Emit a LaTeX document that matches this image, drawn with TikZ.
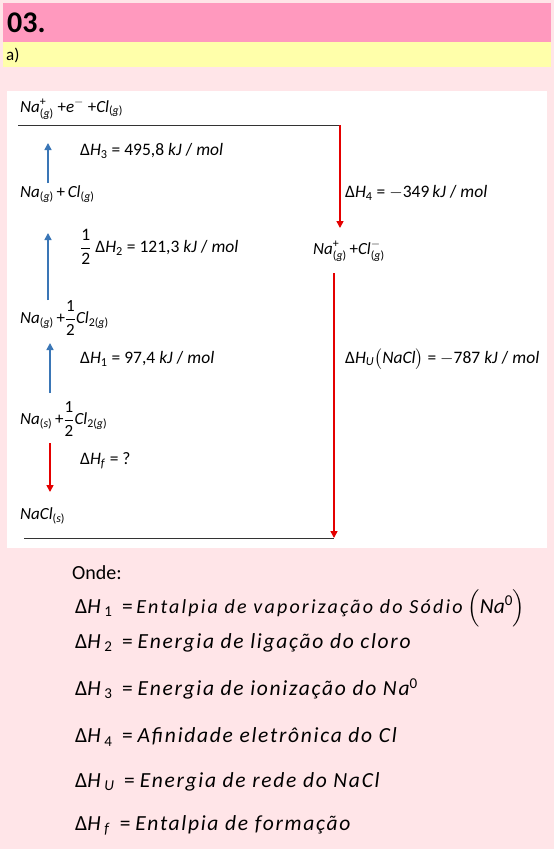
\documentclass[tikz,border=0pt]{standalone}
\usepackage{amsmath}
\usepackage{fontspec}
\setmainfont{Carlito}
\newfontfamily\spacedA[LetterSpace=11]{Carlito}
\newfontfamily\spacedB[LetterSpace=8]{Carlito}
\usetikzlibrary{arrows.meta}
\definecolor{bgpink}{RGB}{255,229,232}
\definecolor{hdrpink}{RGB}{255,153,190}
\definecolor{hdryellow}{RGB}{255,255,170}
\definecolor{arrblue}{RGB}{58,118,182}
\definecolor{arrred}{RGB}{228,0,0}
\newcommand{\sps}[2]{$^{\text{#1}}_{\text{#2}}$}
\newcommand{\sbs}[1]{$_{\text{#1}}$}
\newcommand{\phg}{(\textit{g})}
\newcommand{\phs}{(\textit{s})}
\newcommand{\half}{$\dfrac{\text{1}}{\text{2}}$}
\newcommand{\legtxt}[1]{{\spacedB\itshape #1}}
\tikzset{
  lbl/.style={anchor=west,inner sep=0pt,font=\fontsize{17}{20}\selectfont},
  elbl/.style={anchor=west,inner sep=0pt,font=\fontsize{17.5}{20}\selectfont},
  leg/.style={anchor=west,inner sep=0pt,font=\fontsize{21.5}{24}\selectfont},
  level/.style={draw=black!80,line width=1pt},
  upar/.style={draw=arrblue,line width=1.6pt,-{Triangle[width=7pt,length=7pt]}},
  dnar/.style={draw=arrred,line width=1.6pt,-{Triangle[width=7pt,length=7pt]}}
}
\begin{document}
\begin{tikzpicture}[x=1pt,y=-1pt]
\useasboundingbox (0,0) rectangle (554,849);
\fill[bgpink] (0,0) rectangle (554,849);
\fill[hdrpink] (3,3) rectangle (551,42);
\fill[hdryellow] (3,42) rectangle (551,67);
\node[anchor=west,inner sep=0pt,font=\fontsize{30}{32}\selectfont\bfseries] (title) at (7,23) {03.};
\node[anchor=west,inner sep=0pt,font=\fontsize{17}{19}\selectfont] (part) at (6,55) {a)};
\fill[white] (7,91) rectangle (547,548);

% levels
\coordinate (tl) at (18,125);
\coordinate (tr) at (340,125);
\coordinate (bl) at (24,538);
\coordinate (br) at (334,538);
\draw[level] (tl) -- (tr);
\draw[level] (bl) -- (br);

% species
\node[lbl] (ion3) at (20,109) {\textit{Na}\sps{+}{\phg}\ +\textit{e}$^{-}$\ +\textit{Cl}\sbs{\phg}};
\node[lbl] (atoms) at (20,194) {\textit{Na}\sbs{\phg}\,+\,\textit{Cl}\sbs{\phg}};
\node[lbl] (nag) at (20,318) {\textit{Na}\sbs{\phg}\,+\half\textit{Cl}\sbs{2\phg}};
\node[lbl] (nas) at (20,419) {\textit{Na}\sbs{\phs}\,+\half\textit{Cl}\sbs{2\phg}};
\node[lbl] (nacl) at (20,516) {\textit{NaCl}\sbs{\phs}};
\node[lbl] (ions) at (313,251) {\textit{Na}\sps{+}{\phg}\,+\textit{Cl}\sps{$-$}{\phg}};

% enthalpy labels
\node[elbl] (h3) at (80,151) {Δ\textit{H}\sbs{3} = 495,8 \textit{kJ} / \textit{mol}};
\node[elbl] (h2) at (80,247) {\half\ Δ\textit{H}\sbs{2} = 121,3 \textit{kJ} / \textit{mol}};
\node[elbl] (h1) at (80,359) {Δ\textit{H}\sbs{1} = 97,4 \textit{kJ} / \textit{mol}};
\node[elbl] (hf) at (80,461) {Δ\textit{H}\sbs{\textit{f}} = ?};
\node[elbl] (h4) at (345,193) {Δ\textit{H}\sbs{4} = $-$349\,\textit{kJ} / \textit{mol}};
\node[elbl] (hu) at (345,359) {Δ\textit{H}\sbs{\textit{U}}$\bigl($\textit{NaCl}$\bigr)$ = $-$787 \textit{kJ} / \textit{mol}};

% arrows
\coordinate (a3s) at (48,183); \coordinate (a3e) at (48,143);
\coordinate (a2s) at (48,300); \coordinate (a2e) at (48,233);
\coordinate (a1s) at (50,393); \coordinate (a1e) at (50,343);
\coordinate (afs) at (50,443); \coordinate (afe) at (50,492);
\coordinate (a4e) at (340,228);
\coordinate (aus) at (334,273);
\draw[upar] (a3s) -- (a3e);
\draw[upar] (a2s) -- (a2e);
\draw[upar] (a1s) -- (a1e);
\draw[dnar] (afs) -- (afe);
\draw[dnar] (tr) -- (a4e);
\draw[dnar] (aus) -- (br);

% legend
\node[anchor=west,inner sep=0pt,font=\fontsize{20}{22}\selectfont] (onde) at (72,573) {Onde:};
\node[leg] (l1) at (75,608) {Δ\textit{H}\,\sbs{1}\ \ =\,{\fontsize{20}{22}\spacedA\itshape Entalpia de vaporização do Sódio}\ $\Bigl($\textit{Na}$^{\text{0}}\Bigr)$};
\node[leg] (l2) at (75,643) {Δ\textit{H}\,\sbs{2}\ \ = \legtxt{Energia de ligação do cloro}};
\node[leg] (l3) at (75,689) {Δ\textit{H}\,\sbs{3}\ \ = \legtxt{Energia de ionização do Na}$^{\text{0}}$};
\node[leg] (l4) at (75,737) {Δ\textit{H}\,\sbs{4}\ \ = \legtxt{Afinidade eletrônica do Cl}};
\node[leg] (l5) at (75,782) {Δ\textit{H}\,\sbs{\textit{U}}\ \ = \legtxt{Energia de rede do NaCl}};
\node[leg] (l6) at (75,825) {Δ\textit{H}\,\sbs{\textit{f}}\ \ = \legtxt{Entalpia de formação}};
\end{tikzpicture}
\end{document}
